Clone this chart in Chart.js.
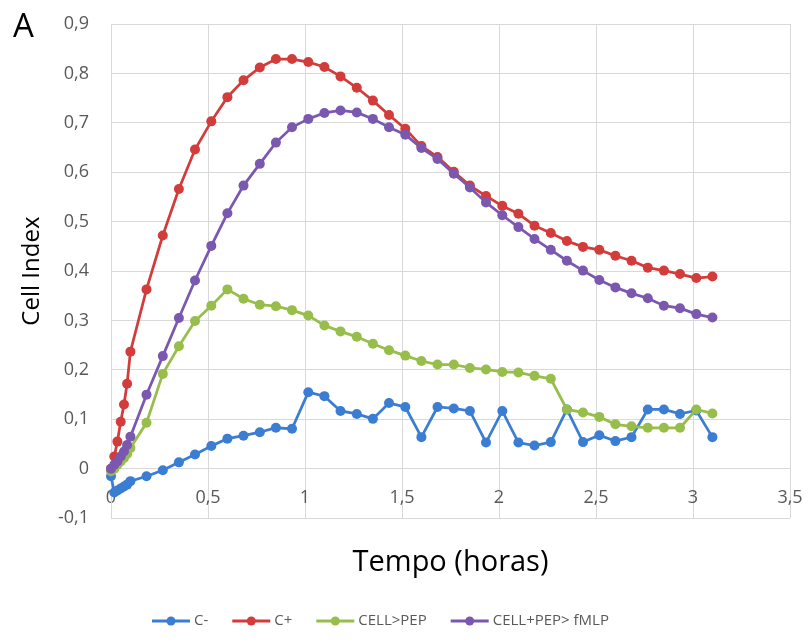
<!DOCTYPE html>
<html>
<head>
<meta charset="utf-8">
<script src="https://cdn.jsdelivr.net/npm/chart.js@4/dist/chart.umd.min.js"></script>
<style>
  html, body { margin: 0; padding: 0; background: #ffffff; }
  #wrap { width: 809px; height: 643px; }
</style>
</head>
<body>
<div id="wrap"><canvas id="c" width="809" height="643"></canvas></div>
<script>
// ---- data ----
const tempo = [0, 0.017, 0.033, 0.05, 0.067, 0.083, 0.1,
  0.183, 0.267, 0.35, 0.433, 0.517, 0.6, 0.683, 0.767, 0.85, 0.933,
  1.017, 1.1, 1.183, 1.267, 1.35, 1.433, 1.517, 1.6, 1.683, 1.767, 1.85, 1.933,
  2.017, 2.1, 2.183, 2.267, 2.35, 2.433, 2.517, 2.6, 2.683, 2.767, 2.85, 2.933,
  3.017, 3.1];

const cMenos = [-0.015, -0.048, -0.044, -0.040, -0.036, -0.032, -0.025,
  -0.015, -0.003, 0.013, 0.029, 0.046, 0.061, 0.067, 0.074, 0.083, 0.081,
  0.155, 0.147, 0.117, 0.111, 0.101, 0.133, 0.125, 0.064, 0.125, 0.122, 0.117, 0.053,
  0.117, 0.053, 0.047, 0.054, 0.120, 0.054, 0.068, 0.056, 0.064, 0.120, 0.120, 0.111,
  0.118, 0.064];

const cMais = [0.0, 0.025, 0.055, 0.095, 0.130, 0.172, 0.237,
  0.363, 0.472, 0.566, 0.646, 0.703, 0.752, 0.786, 0.812, 0.829, 0.829,
  0.823, 0.813, 0.794, 0.771, 0.745, 0.716, 0.688, 0.653, 0.631, 0.601, 0.573, 0.552,
  0.532, 0.516, 0.492, 0.477, 0.461, 0.449, 0.443, 0.431, 0.421, 0.407, 0.401, 0.394,
  0.386, 0.389];

const cellPep = [-0.005, 0.0, 0.008, 0.015, 0.022, 0.030, 0.042,
  0.093, 0.192, 0.248, 0.299, 0.330, 0.363, 0.344, 0.332, 0.329, 0.321,
  0.310, 0.290, 0.278, 0.267, 0.253, 0.240, 0.229, 0.218, 0.211, 0.211, 0.204, 0.201,
  0.196, 0.195, 0.188, 0.182, 0.120, 0.114, 0.105, 0.090, 0.086, 0.083, 0.083, 0.083,
  0.120, 0.112];

const cellPepFmlp = [0.0, 0.008, 0.015, 0.025, 0.035, 0.048, 0.065,
  0.150, 0.228, 0.305, 0.381, 0.451, 0.517, 0.573, 0.617, 0.660, 0.691,
  0.708, 0.720, 0.725, 0.721, 0.708, 0.691, 0.676, 0.649, 0.627, 0.597, 0.569, 0.539,
  0.513, 0.489, 0.465, 0.443, 0.421, 0.401, 0.382, 0.367, 0.355, 0.345, 0.330, 0.325,
  0.313, 0.306];

const seriesLabels = ['C-', 'C+', 'CELL>PEP', 'CELL+PEP> fMLP'];
const seriesValues = [cMenos, cMais, cellPep, cellPepFmlp];
const seriesColors = ['#3a7dd2', '#d23c3a', '#97bd4a', '#7a58b0'];

const xTitle = 'Tempo (horas)';
const yTitle = 'Cell Index';
const panelLabel = 'A';

// ---- chart ----
const FONT = '"Open Sans", "DejaVu Sans", sans-serif';
const fmt = v => String(Math.round(v * 10) / 10).replace('.', ',');

const datasets = seriesValues.map((vals, i) => ({
  label: seriesLabels[i],
  data: tempo.map((t, j) => ({ x: t, y: vals[j] })),
  borderColor: seriesColors[i],
  backgroundColor: seriesColors[i],
  pointBackgroundColor: seriesColors[i],
  pointBorderColor: seriesColors[i],
  borderWidth: 2.75,
  pointRadius: 5,
  pointBorderWidth: 0,
  tension: 0,
  clip: false,
  order: seriesValues.length - i
}));

const legendPlugin = {
  id: 'excelLegend',
  afterDraw(chart) {
    const ctx = chart.ctx;
    let x = 152;
    const y = 621;
    ctx.save();
    ctx.font = '15px ' + FONT;
    ctx.textBaseline = 'middle';
    ctx.textAlign = 'left';
    chart.data.datasets.forEach(ds => {
      ctx.strokeStyle = ds.borderColor;
      ctx.lineWidth = 3;
      ctx.beginPath();
      ctx.moveTo(x, y);
      ctx.lineTo(x + 38, y);
      ctx.stroke();
      ctx.fillStyle = ds.borderColor;
      ctx.beginPath();
      ctx.arc(x + 19, y, 4.5, 0, Math.PI * 2);
      ctx.fill();
      ctx.fillStyle = '#595959';
      ctx.fillText(ds.label, x + 42, y);
      x += 42 + ctx.measureText(ds.label).width + 24;
    });
    ctx.restore();
  }
};

const panelPlugin = {
  id: 'panelLabel',
  afterDraw(chart) {
    const ctx = chart.ctx;
    ctx.save();
    ctx.font = '33px ' + FONT;
    ctx.fillStyle = '#000000';
    ctx.textBaseline = 'alphabetic';
    ctx.textAlign = 'left';
    ctx.fillText(panelLabel, 13, 37);
    ctx.restore();
  }
};

new Chart(document.getElementById('c'), {
  type: 'line',
  data: { datasets },
  options: {
    responsive: false,
    animation: false,
    layout: { padding: { left: 0, top: 24, right: 19, bottom: 63 } },
    scales: {
      x: {
        type: 'linear',
        position: { y: 0 },
        min: 0,
        max: 3.5,
        ticks: {
          stepSize: 0.5,
          padding: 18,
          color: '#595959',
          font: { family: FONT, size: 18 },
          callback: v => fmt(v),
          maxRotation: 0
        },
        grid: { color: '#d9d9d9', drawTicks: false, lineWidth: 1 },
        border: { color: '#d9d9d9' },
        afterFit(s) { s.height = 0; s.paddingLeft = 0; s.paddingRight = 0; }
      },
      y: {
        min: -0.1,
        max: 0.9,
        ticks: {
          stepSize: 0.1,
          padding: 22,
          color: '#595959',
          font: { family: FONT, size: 18 },
          callback: v => fmt(v)
        },
        grid: { color: '#d9d9d9', drawTicks: false, lineWidth: 1 },
        border: { color: '#d9d9d9' },
        title: {
          display: true,
          text: yTitle,
          color: '#000000',
          font: { family: FONT, size: 24 },
          padding: { top: 18, bottom: 0 }
        },
        afterFit(s) { s.width = 111; s.paddingTop = 0; s.paddingBottom = 0; }
      }
    },
    plugins: {
      legend: { display: false },
      tooltip: { enabled: false },
      title: {
        display: true,
        text: xTitle,
        position: 'bottom',
        weight: 500,
        fullSize: false,
        color: '#000000',
        font: { family: FONT, size: 29, weight: 'normal' },
        padding: { top: 27, bottom: 0 }
      }
    }
  },
  plugins: [legendPlugin, panelPlugin]
});
</script>
</body>
</html>
